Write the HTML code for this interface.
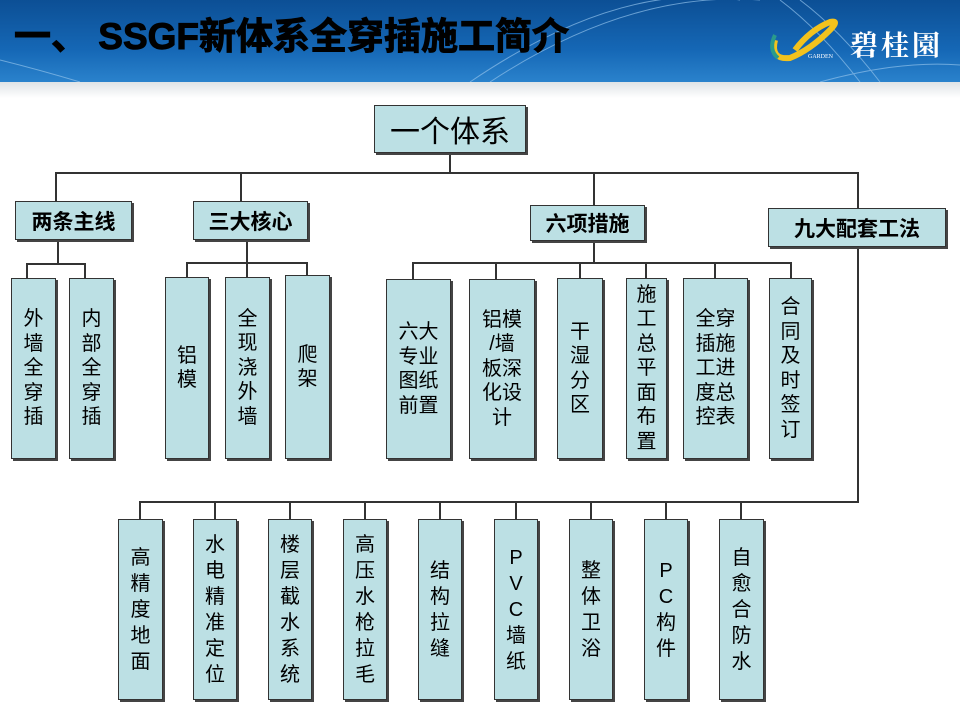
<!DOCTYPE html>
<html><head><meta charset="utf-8"><style>
*{margin:0;padding:0;box-sizing:border-box}
body{width:960px;height:720px;position:relative;background:#fff;overflow:hidden;font-family:"Liberation Sans","Noto Sans CJK SC",sans-serif}
.hdr{position:absolute;left:0;top:0;width:960px;height:82px;background:linear-gradient(180deg,#0c4f95 0%,#1567b5 60%,#2a82cc 100%)}
.band{position:absolute;left:0;top:82px;width:960px;height:16px;background:linear-gradient(180deg,#dfe3e6,#fff)}
.title{position:absolute;left:14px;top:6px;font-size:37px;font-weight:bold;color:#000;letter-spacing:0px;white-space:nowrap;-webkit-text-stroke:1px #000}
.logo{position:absolute;left:850px;top:24px;font-size:28px;font-weight:bold;color:#fff;letter-spacing:3px;font-family:"Noto Serif CJK SC","Noto Sans CJK SC",serif}
.b{position:absolute;background:#bce0e4;border:1px solid #333;box-shadow:2px 2px 0 #444;display:flex;align-items:center;justify-content:center;text-align:center;color:#000}
.h{font-weight:bold;font-size:21px}
.v{font-size:20px;line-height:24.5px}
.v2{font-size:20px;line-height:26px}
.l{position:absolute;background:#333}
</style></head><body>
<div class="hdr"></div>
<svg style="position:absolute;left:0;top:0" width="960" height="82"><g fill="none" stroke="#8fc0ea" stroke-width="1" opacity=".7"><path d="M470 82 Q620 -20 740 0"/><path d="M490 82 Q630 -10 760 0"/><path d="M780 0 Q820 30 860 82"/><path d="M800 0 Q840 30 880 82"/><path d="M820 82 Q900 60 960 65"/><path d="M0 60 Q40 70 80 82"/></g>
<path d="M775 40 Q770 60 790 58 Q810 50 830 30 Q840 20 830 22 Q810 30 795 50" fill="none" stroke="#f3c21d" stroke-width="6"/><path d="M775 35 Q768 50 778 58" fill="none" stroke="#2a9b8b" stroke-width="4"/>
<text x="808" y="58" font-size="6" fill="#fff" font-family="Liberation Serif">GARDEN</text></svg>
<div class="band"></div>
<div class="title">一、 SSGF新体系全穿插施工简介</div>
<div class="logo">碧桂園</div>

<!-- lines -->
<div class="l" style="left:449px;top:152px;width:2px;height:22px"></div>
<div class="l" style="left:55px;top:172px;width:804px;height:2px"></div>
<div class="l" style="left:55px;top:172px;width:2px;height:30px"></div>
<div class="l" style="left:240px;top:172px;width:2px;height:30px"></div>
<div class="l" style="left:593px;top:172px;width:2px;height:34px"></div>
<div class="l" style="left:857px;top:172px;width:2px;height:331px"></div>
<div class="l" style="left:140px;top:501px;width:719px;height:2px"></div>

<div class="l" style="left:57px;top:240px;width:2px;height:24px"></div>
<div class="l" style="left:26px;top:263px;width:60px;height:2px"></div>
<div class="l" style="left:26px;top:263px;width:2px;height:16px"></div>
<div class="l" style="left:84px;top:263px;width:2px;height:16px"></div>

<div class="l" style="left:246px;top:240px;width:2px;height:38px"></div>
<div class="l" style="left:186px;top:262px;width:122px;height:2px"></div>
<div class="l" style="left:186px;top:262px;width:2px;height:16px"></div>
<div class="l" style="left:306px;top:262px;width:2px;height:14px"></div>

<div class="l" style="left:593px;top:241px;width:2px;height:22px"></div>
<div class="l" style="left:412px;top:262px;width:380px;height:2px"></div>
<div class="l" style="left:412px;top:262px;width:2px;height:17px"></div>
<div class="l" style="left:495px;top:262px;width:2px;height:17px"></div>
<div class="l" style="left:579px;top:262px;width:2px;height:16px"></div>
<div class="l" style="left:645px;top:262px;width:2px;height:16px"></div>
<div class="l" style="left:714px;top:262px;width:2px;height:16px"></div>
<div class="l" style="left:790px;top:262px;width:2px;height:16px"></div>

<div class="l" style="left:139px;top:501px;width:2px;height:18px"></div>
<div class="l" style="left:214px;top:501px;width:2px;height:18px"></div>
<div class="l" style="left:289px;top:501px;width:2px;height:18px"></div>
<div class="l" style="left:364px;top:501px;width:2px;height:18px"></div>
<div class="l" style="left:439px;top:501px;width:2px;height:18px"></div>
<div class="l" style="left:515px;top:501px;width:2px;height:18px"></div>
<div class="l" style="left:590px;top:501px;width:2px;height:18px"></div>
<div class="l" style="left:665px;top:501px;width:2px;height:18px"></div>
<div class="l" style="left:740px;top:501px;width:2px;height:18px"></div>

<!-- boxes -->
<div class="b" style="left:374px;top:105px;width:152px;height:48px;font-size:30px">一个体系</div>
<div class="b h" style="left:15px;top:201px;width:117px;height:39px">两条主线</div>
<div class="b h" style="left:193px;top:201px;width:115px;height:39px">三大核心</div>
<div class="b h" style="left:530px;top:205px;width:115px;height:36px">六项措施</div>
<div class="b h" style="left:768px;top:208px;width:178px;height:39px">九大配套工法</div>

<div class="b v" style="left:11px;top:278px;width:45px;height:181px">外<br>墙<br>全<br>穿<br>插</div>
<div class="b v" style="left:69px;top:278px;width:45px;height:181px">内<br>部<br>全<br>穿<br>插</div>
<div class="b v" style="left:165px;top:277px;width:44px;height:182px">铝<br>模</div>
<div class="b v" style="left:225px;top:277px;width:45px;height:182px">全<br>现<br>浇<br>外<br>墙</div>
<div class="b v" style="left:285px;top:275px;width:45px;height:184px">爬<br>架</div>

<div class="b v" style="left:386px;top:279px;width:65px;height:180px">六大<br>专业<br>图纸<br>前置</div>
<div class="b v" style="left:469px;top:279px;width:66px;height:180px">铝模<br>/墙<br>板深<br>化设<br>计</div>
<div class="b v" style="left:557px;top:278px;width:46px;height:181px">干<br>湿<br>分<br>区</div>
<div class="b v" style="left:626px;top:278px;width:41px;height:181px">施<br>工<br>总<br>平<br>面<br>布<br>置</div>
<div class="b v" style="left:683px;top:278px;width:65px;height:181px">全穿<br>插施<br>工进<br>度总<br>控表</div>
<div class="b v" style="left:769px;top:278px;width:43px;height:181px">合<br>同<br>及<br>时<br>签<br>订</div>

<div class="b v2" style="left:118px;top:519px;width:45px;height:181px">高<br>精<br>度<br>地<br>面</div>
<div class="b v2" style="left:193px;top:519px;width:44px;height:181px">水<br>电<br>精<br>准<br>定<br>位</div>
<div class="b v2" style="left:268px;top:519px;width:44px;height:181px">楼<br>层<br>截<br>水<br>系<br>统</div>
<div class="b v2" style="left:343px;top:519px;width:44px;height:181px">高<br>压<br>水<br>枪<br>拉<br>毛</div>
<div class="b v2" style="left:418px;top:519px;width:44px;height:181px">结<br>构<br>拉<br>缝</div>
<div class="b v2" style="left:494px;top:519px;width:44px;height:181px">P<br>V<br>C<br>墙<br>纸</div>
<div class="b v2" style="left:569px;top:519px;width:44px;height:181px">整<br>体<br>卫<br>浴</div>
<div class="b v2" style="left:644px;top:519px;width:44px;height:181px">P<br>C<br>构<br>件</div>
<div class="b v2" style="left:719px;top:519px;width:45px;height:181px">自<br>愈<br>合<br>防<br>水</div>
</body></html>
